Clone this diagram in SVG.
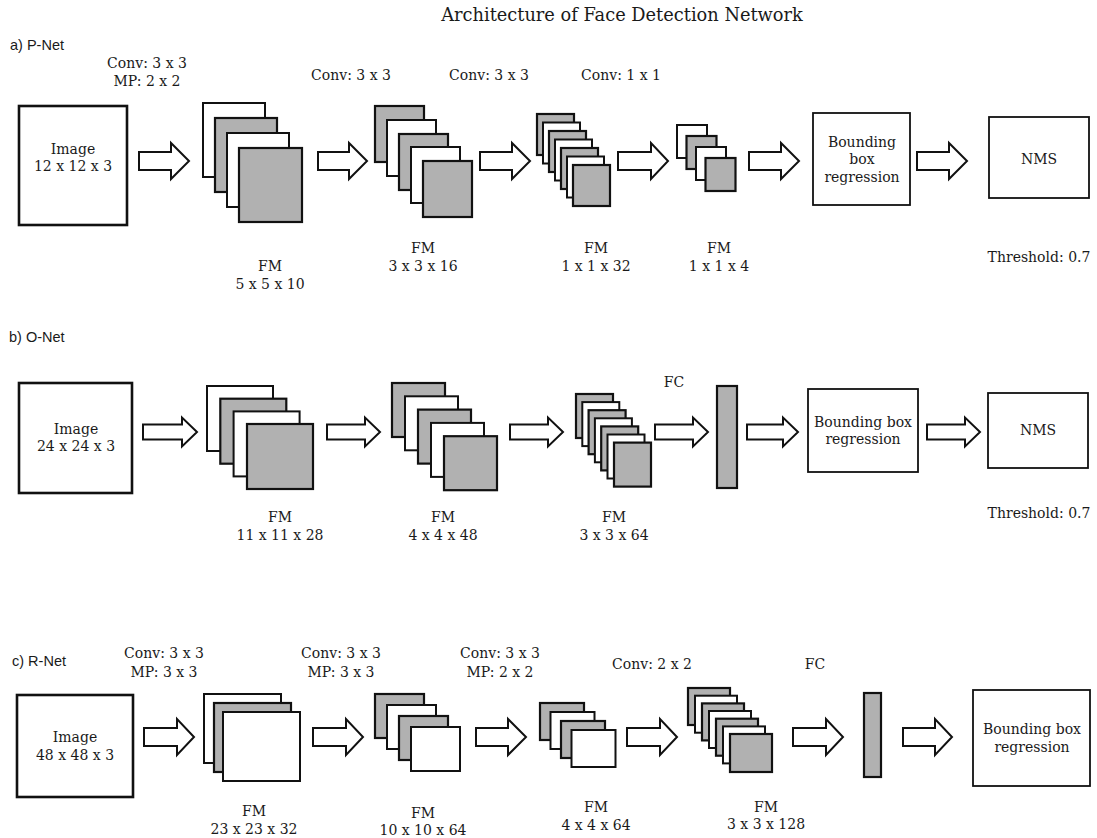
<svg xmlns="http://www.w3.org/2000/svg" width="1097" height="838" viewBox="0 0 1097 838">
<style>
.t{font-family:"DejaVu Serif","Liberation Serif",serif;font-size:14px;fill:#1a1a1a;text-anchor:middle}
.title{font-family:"DejaVu Serif","Liberation Serif",serif;font-size:17.8px;fill:#1a1a1a;text-anchor:middle}
.s{font-family:"Liberation Sans",Arial,sans-serif;font-size:14.5px;fill:#1a1a1a}
.w{fill:#fff;stroke:#111;stroke-width:2}
.g{fill:#b1b1b1;stroke:#111;stroke-width:2.2}
.box{fill:#fff;stroke:#111;stroke-width:1.8}
.img{fill:#fff;stroke:#111;stroke-width:2.6}
.ar{fill:#fff;stroke:#111;stroke-width:2;stroke-linejoin:miter}
</style>
<rect width="1097" height="838" fill="#fff"/>
<text class="title" x="622" y="21">Architecture of Face Detection Network</text>

<!-- P-Net -->
<text class="s" x="10" y="50">a) P-Net</text>
<g id="p-image"><rect class="img" x="19" y="106" width="108" height="119"/><text class="t" x="73" y="154">Image</text><text class="t" x="73" y="171">12 x 12 x 3</text></g>
<g id="p-fm1">
<text class="t" x="147" y="68">Conv: 3 x 3</text><text class="t" x="147" y="86">MP: 2 x 2</text>
<rect class="w" x="203" y="103" width="62" height="74"/><rect class="g" x="215" y="118" width="62" height="74"/><rect class="w" x="227" y="133" width="62" height="74"/><rect class="g" x="239" y="148" width="63" height="74"/>
<text class="t" x="270" y="271">FM</text><text class="t" x="270" y="289">5 x 5 x 10</text></g>
<g id="p-fm2">
<text class="t" x="351" y="80">Conv: 3 x 3</text>
<rect class="g" x="375" y="106" width="49" height="56"/><rect class="w" x="387" y="120" width="49" height="56"/><rect class="g" x="399" y="134" width="49" height="56"/><rect class="w" x="411" y="147" width="49" height="56"/><rect class="g" x="423" y="161" width="49" height="56"/>
<text class="t" x="423" y="253">FM</text><text class="t" x="423" y="271">3 x 3 x 16</text></g>
<g id="p-fm3">
<text class="t" x="489" y="80">Conv: 3 x 3</text>
<rect class="g" x="537" y="114" width="37" height="41"/><rect class="w" x="543" y="122.5" width="37" height="41"/><rect class="g" x="549" y="131" width="37" height="41"/><rect class="w" x="555" y="139.5" width="37" height="41"/><rect class="g" x="561" y="148" width="37" height="41"/><rect class="w" x="567" y="156.5" width="37" height="41"/><rect class="g" x="573" y="165" width="37" height="41"/>
<text class="t" x="596" y="253">FM</text><text class="t" x="596" y="271">1 x 1 x 32</text></g>
<g id="p-fm4">
<text class="t" x="621" y="80">Conv: 1 x 1</text>
<rect class="w" x="677" y="125" width="30" height="33"/><rect class="g" x="686.5" y="136" width="30" height="33"/><rect class="w" x="696" y="147" width="30" height="33"/><rect class="g" x="705.5" y="158" width="30" height="33"/>
<text class="t" x="719" y="253">FM</text><text class="t" x="719" y="271">1 x 1 x 4</text></g>
<g id="p-bbr"><rect class="box" x="813" y="113" width="97" height="92"/><text class="t" x="862" y="147">Bounding</text><text class="t" x="862" y="164">box</text><text class="t" x="862" y="182">regression</text></g>
<g id="p-nms"><rect class="box" x="989" y="117" width="100" height="81"/><text class="t" x="1039" y="164">NMS</text><text class="t" x="1039" y="262">Threshold: 0.7</text></g>

<!-- O-Net -->
<text class="s" x="9" y="342">b) O-Net</text>
<g id="o-image"><rect class="img" x="19" y="383" width="113" height="110"/><text class="t" x="76" y="434">Image</text><text class="t" x="76" y="451">24 x 24 x 3</text></g>
<g id="o-fm1">
<rect class="w" x="207" y="386" width="66" height="65"/><rect class="g" x="220.3" y="398.7" width="66" height="65"/><rect class="w" x="233.6" y="411.4" width="66" height="65"/><rect class="g" x="247" y="424" width="66" height="65"/>
<text class="t" x="280" y="522">FM</text><text class="t" x="280" y="540">11 x 11 x 28</text></g>
<g id="o-fm2">
<rect class="g" x="392" y="383" width="53" height="54"/><rect class="w" x="405" y="396.3" width="53" height="54"/><rect class="g" x="418" y="409.6" width="53" height="54"/><rect class="w" x="431" y="422.9" width="53" height="54"/><rect class="g" x="444" y="436.2" width="53" height="54"/>
<text class="t" x="443" y="522">FM</text><text class="t" x="443" y="540">4 x 4 x 48</text></g>
<g id="o-fm3">
<rect class="g" x="576" y="394" width="37" height="44"/><rect class="w" x="582.3" y="402.1" width="37" height="44"/><rect class="g" x="588.6" y="410.2" width="37" height="44"/><rect class="w" x="594.9" y="418.3" width="37" height="44"/><rect class="g" x="601.2" y="426.4" width="37" height="44"/><rect class="w" x="607.5" y="434.5" width="37" height="44"/><rect class="g" x="614" y="442.6" width="37" height="44"/>
<text class="t" x="614" y="522">FM</text><text class="t" x="614" y="540">3 x 3 x 64</text></g>
<g id="o-fc"><text class="t" x="674" y="387">FC</text><rect class="g" x="717" y="386" width="20" height="102"/></g>
<g id="o-bbr"><rect class="box" x="808" y="389" width="110" height="83"/><text class="t" x="863" y="427">Bounding box</text><text class="t" x="863" y="444">regression</text></g>
<g id="o-nms"><rect class="box" x="988" y="393" width="100" height="75"/><text class="t" x="1038" y="435">NMS</text><text class="t" x="1039" y="518">Threshold: 0.7</text></g>

<!-- R-Net -->
<text class="s" x="12" y="666">c) R-Net</text>
<g id="r-image"><rect class="img" x="17" y="695" width="116" height="102"/><text class="t" x="75" y="742">Image</text><text class="t" x="75" y="760">48 x 48 x 3</text></g>
<g id="r-fm1">
<text class="t" x="164" y="658">Conv: 3 x 3</text><text class="t" x="164" y="677">MP: 3 x 3</text>
<rect class="w" x="204" y="694" width="77" height="69"/><rect class="g" x="214" y="703" width="77" height="69"/><rect class="w" x="223" y="712" width="77" height="69"/>
<text class="t" x="254" y="816">FM</text><text class="t" x="254" y="834">23 x 23 x 32</text></g>
<g id="r-fm2">
<text class="t" x="341" y="658">Conv: 3 x 3</text><text class="t" x="341" y="677">MP: 3 x 3</text>
<rect class="g" x="375" y="694" width="49" height="44"/><rect class="w" x="387" y="705" width="49" height="44"/><rect class="g" x="399" y="716" width="49" height="44"/><rect class="w" x="411" y="727" width="49" height="44"/>
<text class="t" x="423" y="818">FM</text><text class="t" x="423" y="835">10 x 10 x 64</text></g>
<g id="r-fm3">
<text class="t" x="500" y="658">Conv: 3 x 3</text><text class="t" x="500" y="677">MP: 2 x 2</text>
<rect class="g" x="540" y="703" width="44" height="37"/><rect class="w" x="550.5" y="712" width="44" height="37"/><rect class="g" x="561" y="721" width="44" height="37"/><rect class="w" x="571.5" y="730" width="44" height="37"/>
<text class="t" x="596" y="812">FM</text><text class="t" x="596" y="830">4 x 4 x 64</text></g>
<g id="r-fm4">
<text class="t" x="652" y="669">Conv: 2 x 2</text>
<rect class="g" x="688" y="688" width="42" height="37"/><rect class="w" x="695" y="695.7" width="42" height="37"/><rect class="g" x="702" y="703.4" width="42" height="37"/><rect class="w" x="709" y="711" width="42" height="37"/><rect class="g" x="716" y="718.7" width="42" height="37"/><rect class="w" x="723" y="726.4" width="42" height="37"/><rect class="g" x="730" y="734" width="42" height="38"/>
<text class="t" x="766" y="812">FM</text><text class="t" x="766" y="829">3 x 3 x 128</text></g>
<g id="r-fc"><text class="t" x="815" y="669">FC</text><rect class="g" x="864" y="693" width="17" height="84"/></g>
<g id="r-bbr"><rect class="box" x="973" y="690" width="117" height="96"/><text class="t" x="1032" y="734">Bounding box</text><text class="t" x="1032" y="752">regression</text></g>

<g id="connectors">
<!-- P row, center 161 -->
<path class="ar" d="M139,152 H171 V143 L189,161 L171,179 V170 H139 Z"/>
<path class="ar" d="M318,152 H349 V143 L367,161 L349,179 V170 H318 Z"/>
<path class="ar" d="M480,152 H512 V143 L530,161 L512,179 V170 H480 Z"/>
<path class="ar" d="M618,152 H651 V143 L668,161 L651,179 V170 H618 Z"/>
<path class="ar" d="M749,152 H781 V143 L799,161 L781,179 V170 H749 Z"/>
<path class="ar" d="M917,152 H949 V143 L967,161 L949,179 V170 H917 Z"/>
<!-- O row, center 432 -->
<path class="ar" d="M143,424.5 H182 V417.5 L197,432 L182,446.5 V439.5 H143 Z"/>
<path class="ar" d="M327,424.5 H365 V417.5 L380,432 L365,446.5 V439.5 H327 Z"/>
<path class="ar" d="M510,424.5 H548 V417.5 L563,432 L548,446.5 V439.5 H510 Z"/>
<path class="ar" d="M655,424.5 H693 V417.5 L708,432 L693,446.5 V439.5 H655 Z"/>
<path class="ar" d="M747,424.5 H783 V417.5 L798,432 L783,446.5 V439.5 H747 Z"/>
<path class="ar" d="M927,424.5 H965 V417.5 L980,432 L965,446.5 V439.5 H927 Z"/>
<!-- R row, center 737 -->
<path class="ar" d="M144,728 H177 V719 L194,737 L177,755 V746 H144 Z"/>
<path class="ar" d="M313,728 H346 V719 L363,737 L346,755 V746 H313 Z"/>
<path class="ar" d="M476,728 H508 V719 L526,737 L508,755 V746 H476 Z"/>
<path class="ar" d="M627,728 H660 V719 L677,737 L660,755 V746 H627 Z"/>
<path class="ar" d="M793,728 H826 V719 L843,737 L826,755 V746 H793 Z"/>
<path class="ar" d="M903,728 H935 V719 L952,737 L935,755 V746 H903 Z"/>
</g>
</svg>
